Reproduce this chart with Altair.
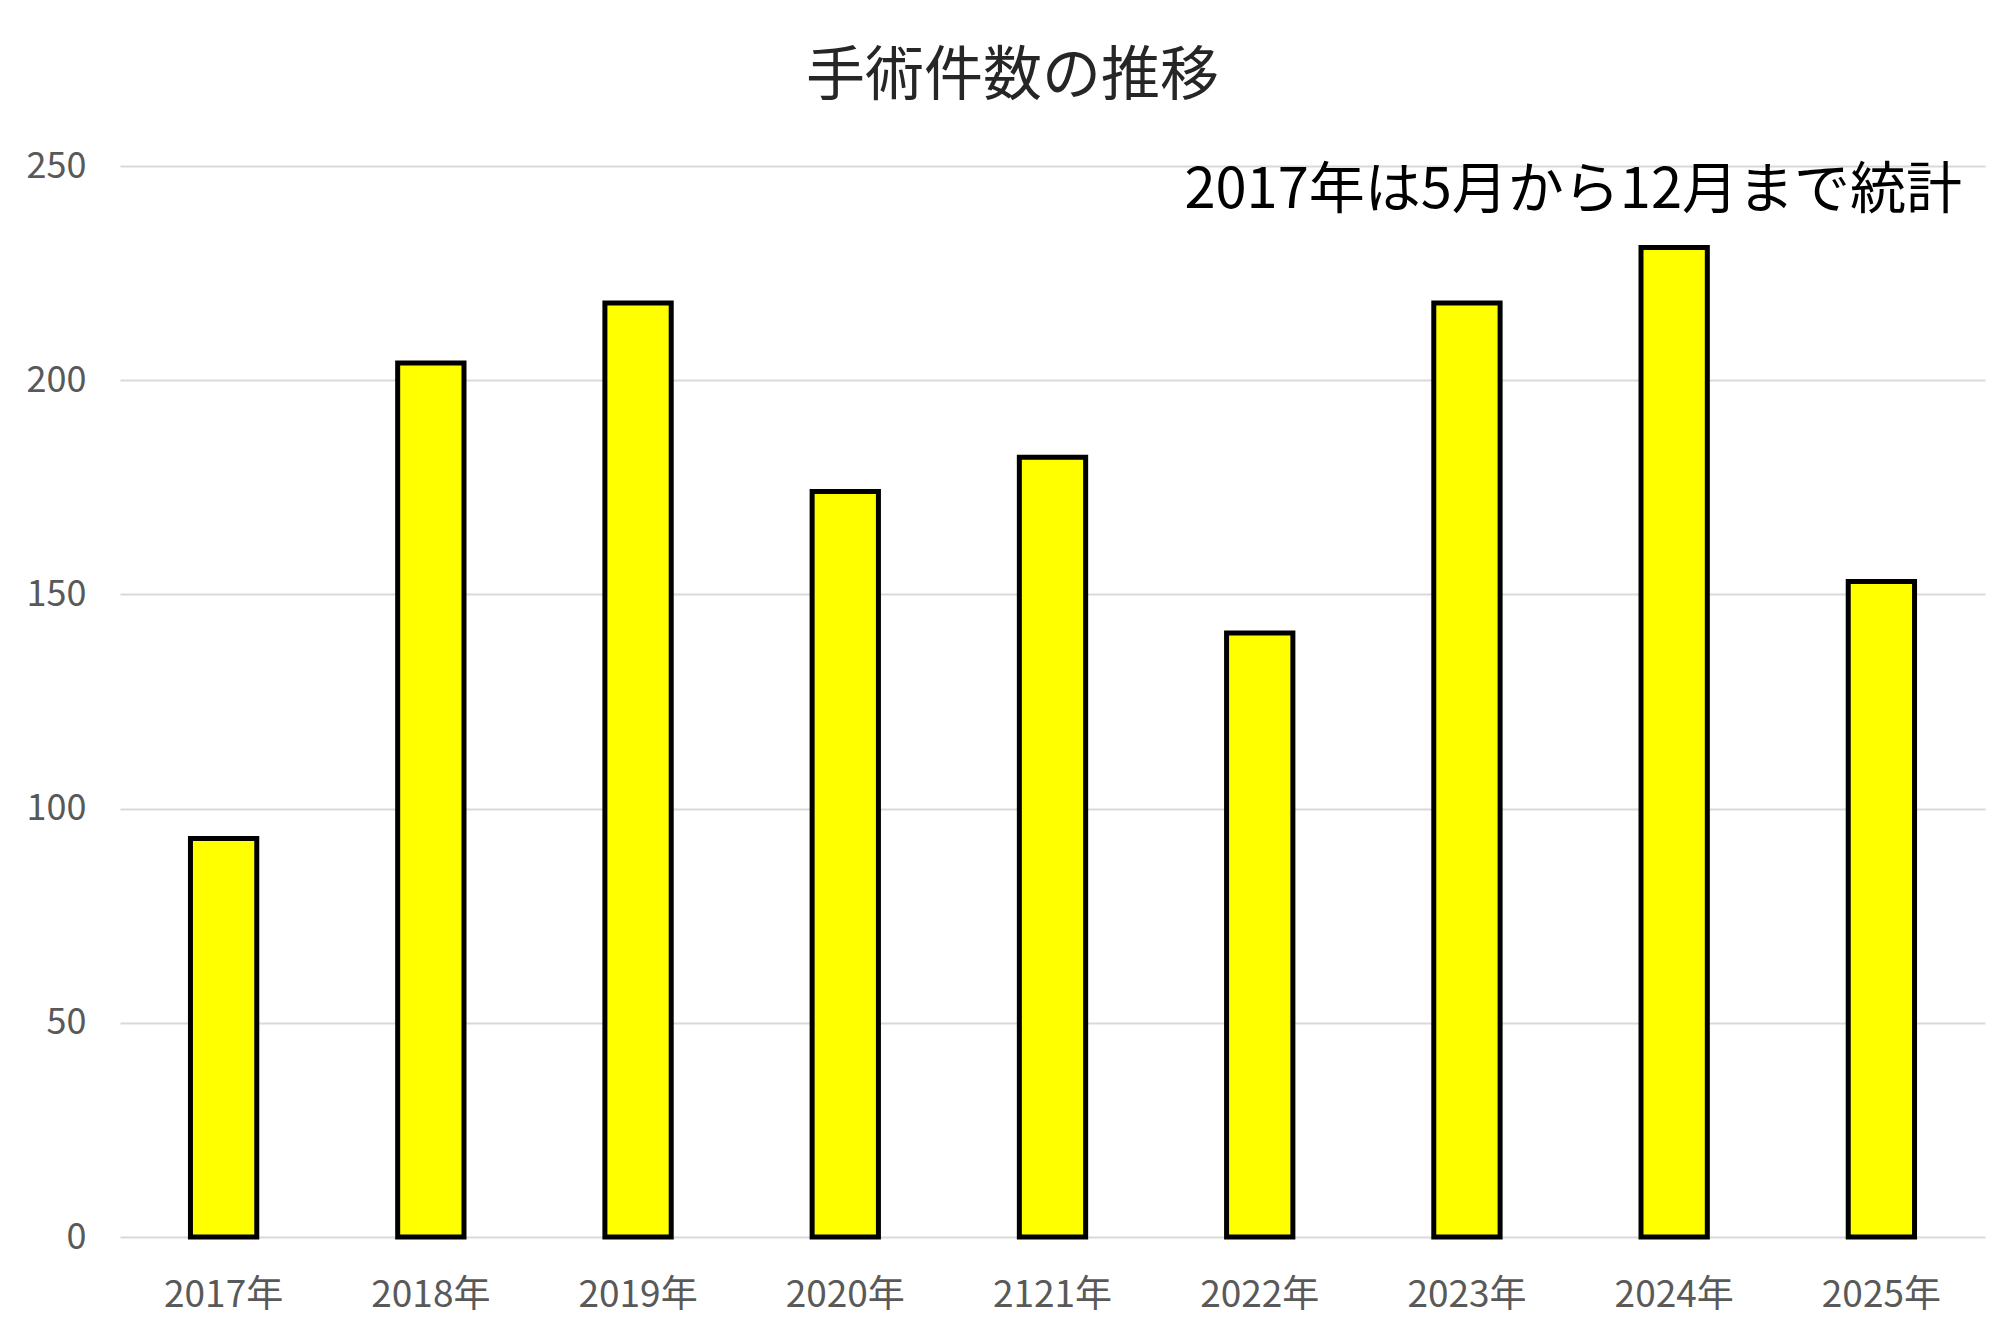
import altair as alt
import pandas as pd

years = ["2017年", "2018年", "2019年", "2020年", "2121年", "2022年", "2023年", "2024年", "2025年"]
counts = [93, 204, 218, 174, 182, 141, 218, 231, 153]
y_ticks = [0, 50, 100, 150, 200, 250]
title_text = "手術件数の推移"
note_text = ["2017年は5月から12月まで統計"]

df = pd.DataFrame({"year": years, "count": counts})
note_df = pd.DataFrame({"note": note_text})

FONT = "Noto Sans CJK JP"
W, H = 1865, 1071

bars = alt.Chart(df).mark_bar(
    color="#FFFF00", stroke="#000000", strokeWidth=5
).encode(
    x=alt.X("year:N", sort=years,
            scale=alt.Scale(paddingInner=0.68, paddingOuter=0.34),
            axis=alt.Axis(title=None, labelAngle=0, domain=False, ticks=False,
                          labelFont=FONT, labelFontSize=37, labelColor="#595959",
                          labelPadding=40, grid=False)),
    y=alt.Y("count:Q", scale=alt.Scale(domain=[0, 250], nice=False),
            axis=alt.Axis(title=None, values=y_ticks, domain=False, ticks=False,
                          labelFont=FONT, labelFontSize=36, labelColor="#595959",
                          labelPadding=34, gridColor="#D9D9D9", gridWidth=2)),
)

note = alt.Chart(note_df).mark_text(
    font=FONT, fontSize=56, align="right", baseline="middle", color="#000000"
).encode(
    text="note:N",
    x=alt.value(W - 23),
    y=alt.value(25),
)

chart = alt.layer(bars, note).properties(
    width=W, height=H,
    title=alt.TitleParams(title_text, font=FONT, fontSize=59, fontWeight="normal",
                          color="#262626", anchor="middle", dx=-40, offset=41),
    padding={"left": 112, "top": 158, "right": 7, "bottom": 80},
    autosize=alt.AutoSizeParams(type="none"),
).configure_view(stroke=None)

chart.save("out.html", embed_options={"renderer": "svg", "actions": False})
